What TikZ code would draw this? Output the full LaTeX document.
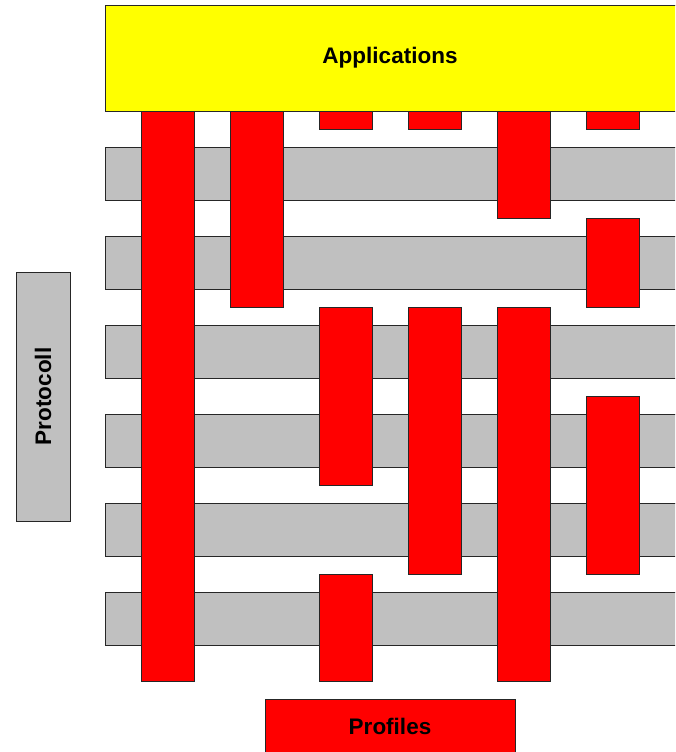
\documentclass[tikz,border=0pt]{standalone}
\usepackage{fontspec}
\setmainfont{Liberation Sans}
\definecolor{appyellow}{RGB}{255,255,0}
\definecolor{profred}{RGB}{255,0,0}
\definecolor{layergray}{RGB}{192,192,192}
\begin{document}
\begin{tikzpicture}[x=1pt,y=-1pt,
  box/.style={draw=black!85,line width=0.8pt,inner sep=0pt,outer sep=0pt,anchor=north west},
  graybar/.style={box,fill=layergray,minimum width=580,minimum height=53},
  redcol/.style={box,fill=profred,minimum width=53},
  lbl/.style={font=\fontsize{22.5}{27}\selectfont\bfseries}]
\useasboundingbox (0,0) rectangle (675,752);
\clip (0,0) rectangle (675,752);
% protocol layers
\foreach \i/\y in {1/147,2/236,3/325,4/414,5/503,6/592}
  \node[graybar] (layer\i) at (105,\y) {};
% profile columns
\node[redcol,minimum height=570] (c1) at (141,111) {};
\node[redcol,minimum height=196] (c2) at (230,111) {};
\node[redcol,minimum height=18] (c3a) at (319,111) {};
\node[redcol,minimum height=178] (c3b) at (319,307) {};
\node[redcol,minimum height=107] (c3c) at (319,574) {};
\node[redcol,minimum height=18] (c4a) at (408,111) {};
\node[redcol,minimum height=267] (c4b) at (408,307) {};
\node[redcol,minimum height=107] (c5a) at (497,111) {};
\node[redcol,minimum height=374] (c5b) at (497,307) {};
\node[redcol,minimum height=18] (c6a) at (586,111) {};
\node[redcol,minimum height=89] (c6b) at (586,218) {};
\node[redcol,minimum height=178] (c6c) at (586,396) {};
% applications
\node[box,fill=appyellow,minimum width=580,minimum height=106] (apps) at (105,5) {};
\node[lbl] (appslbl) at (390,58) {Applications};
% protocoll
\node[box,fill=layergray,minimum width=54,minimum height=249] (proto) at (16,272) {};
\node[lbl,rotate=90] (protolbl) at (43,396.5) {Protocoll};
% profiles
\node[box,fill=profred,minimum width=250,minimum height=60] (prof) at (265,699) {};
\node[lbl] (proflbl) at (390,726) {Profiles};
\end{tikzpicture}
\end{document}
